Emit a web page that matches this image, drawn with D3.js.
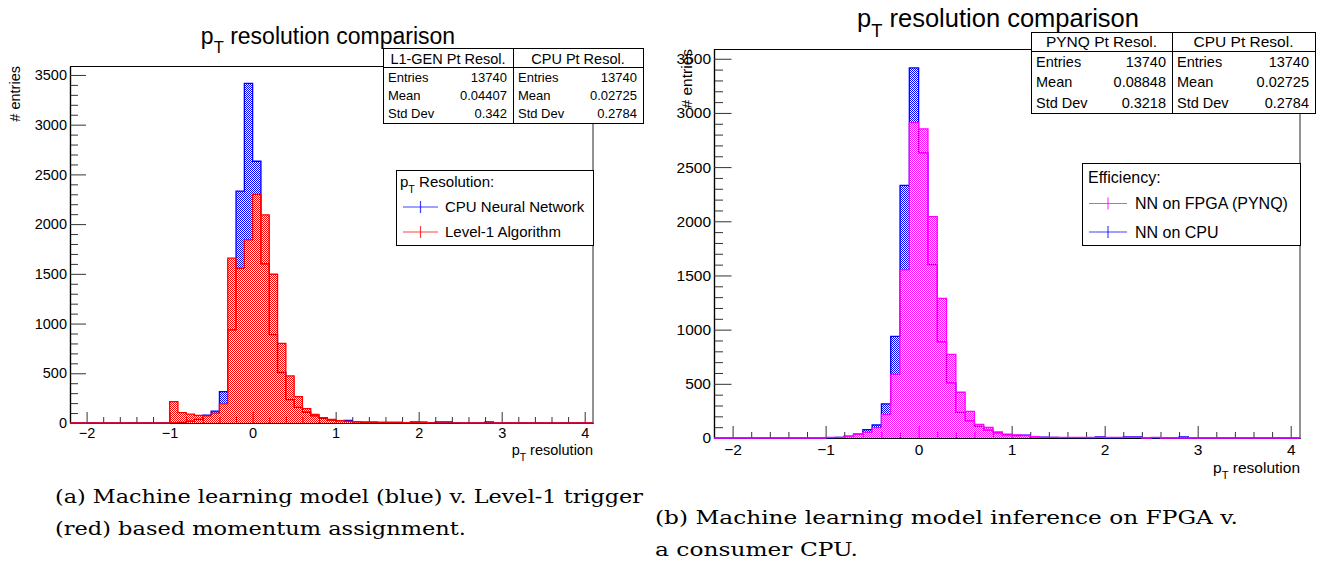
<!DOCTYPE html>
<html><head><meta charset="utf-8">
<script src="https://cdn.jsdelivr.net/npm/d3@7/dist/d3.min.js"></script>
<style>
html,body{margin:0;padding:0;background:#fff;}
svg{display:block;}
text{font-family:"Liberation Sans",Arial,Helvetica,sans-serif;fill:#000;}
.cap{font-family:"DejaVu Serif","Liberation Serif",serif;}
</style></head><body>
<svg id="c" width="1320" height="563"></svg>
<script>
// ---------------- DATA ----------------
const binLow = [-1.0,-0.9,-0.8,-0.7,-0.6,-0.5,-0.4,-0.3,-0.2,-0.1,
                 0.0, 0.1, 0.2, 0.3, 0.4, 0.5, 0.6, 0.7, 0.8, 0.9,
                 1.0, 1.1, 1.2, 1.3, 1.4, 1.5, 1.6, 1.7, 1.8, 1.9,
                 2.0, 2.1, 2.2, 2.3, 2.4, 2.5, 2.6, 2.7, 2.8, 2.9];
const binWidth = 0.1;
const histRange = [-2.2, 4.1];
// CPU neural network (same histogram in both panels)
const cpuCounts = [2,6,18,36,78,120,315,937,2332,3415,
                   2632,1600,888,508,236,158,108,72,48,30,
                   23,27,11,7,5,4,4,3,2,10,
                   2,1,10,10,1,1,1,1,10,0];
// Level-1 algorithm
const l1Counts = [215,105,90,76,72,100,192,1657,1556,1841,
                  2300,2093,1496,801,473,265,145,87,54,37,
                  23,17,13,10,10,9,9,8,3,3,
                  10,2,2,1,1,0,0,0,0,0];
// NN on FPGA (PYNQ)
const pynqCounts = [6,6,12,38,52,95,215,588,1551,2911,
                    2852,2043,1289,772,422,246,126,97,56,36,
                    28,25,12,6,6,6,6,6,6,6,
                    6,6,6,6,0,6,0,0,0,0];
const yTickValues = [0,500,1000,1500,2000,2500,3000,3500];
const xTickValues = [-2,-1,0,1,2,3,4];
const yTop = 3590;

const titleMain = " resolution comparison";
const xTitle = " resolution";
const yTitle = "# entries";

const statsRowLabels = ["Entries","Mean","Std Dev"];
const statsNamesA = ["L1-GEN Pt Resol.","CPU Pt Resol."];
const statsValuesA = [["13740","0.04407","0.342"],["13740","0.02725","0.2784"]];
const statsNamesB = ["PYNQ Pt Resol.","CPU Pt Resol."];
const statsValuesB = [["13740","0.08848","0.3218"],["13740","0.02725","0.2784"]];

const legendTitleA = " Resolution:";
const legendLabelsA = ["CPU Neural Network","Level-1 Algorithm"];
const legendTitleB = "Efficiency:";
const legendLabelsB = ["NN on FPGA (PYNQ)","NN on CPU"];

const captionA = ["(a) Machine learning model (blue) v. Level-1 trigger","(red) based momentum assignment."];
const captionB = ["(b) Machine learning model inference on FPGA v.","a consumer CPU."];

// ---------------- DRAW ----------------
const svg = d3.select("#c");
const defs = svg.append("defs");
function makePattern(id, color){
  const p = defs.append("pattern").attr("id",id).attr("patternUnits","userSpaceOnUse")
    .attr("width",2).attr("height",2);
  p.append("rect").attr("x",0).attr("y",0).attr("width",1).attr("height",1).attr("fill",color);
  p.append("rect").attr("x",1).attr("y",1).attr("width",1).attr("height",1).attr("fill",color);
}
makePattern("patBlue","#0000ff");
makePattern("patRed","#ff0000");
makePattern("patMag","#ff00ff");

function subText(sel, pre, sub, post, size){
  sel.append("tspan").text(pre);
  sel.append("tspan").attr("font-size",size*0.72).attr("dy",size*0.38).text(sub);
  sel.append("tspan").attr("dy",-size*0.38).text(post);
}
const intFmt = d3.format("d");

function drawPanel(L){
  const g = svg.append("g");
  const x = d3.scaleLinear().domain(histRange).range([L.x0, L.x1]);
  const y = d3.scaleLinear().domain([0, yTop]).range([L.y1, L.y0]);

  // frame
  g.append("line").attr("x1",L.x0).attr("x2",L.x1).attr("y1",L.y0+0.5).attr("y2",L.y0+0.5)
    .attr("stroke","#000").attr("stroke-width",1);
  g.append("line").attr("x1",L.x1).attr("x2",L.x1).attr("y1",L.y0).attr("y2",L.y1)
    .attr("stroke","#777").attr("stroke-width",1.6);

  // ticks
  const xMinor = d3.range(-11, 21).map(k => k*0.2).filter(v => Math.abs(v-Math.round(v))>1e-6);
  const yMinor = d3.range(1, 36).map(k => k*100).filter(v => v%500!==0);
  const fs = L.fs;
  const xm = g.append("g").attr("transform",`translate(0,${L.y1})`)
    .call(d3.axisBottom(x).tickValues(xMinor).tickSizeInner(-L.xMinor).tickSizeOuter(0).tickFormat(""));
  const ym = g.append("g").attr("transform",`translate(${L.x0},0)`)
    .call(d3.axisLeft(y).tickValues(yMinor).tickSizeInner(-L.yMinor).tickSizeOuter(0).tickFormat(""));
  const xa = g.append("g").attr("transform",`translate(0,${L.y1})`)
    .call(d3.axisBottom(x).tickValues(xTickValues).tickFormat(intFmt).tickSizeInner(-L.xMajor).tickSizeOuter(0).tickPadding(L.xPad));
  const ya = g.append("g").attr("transform",`translate(${L.x0},0)`)
    .call(d3.axisLeft(y).tickValues(yTickValues).tickFormat(intFmt).tickSizeInner(-L.yMajor).tickSizeOuter(0).tickPadding(L.yPad));
  [xm,ym,xa,ya].forEach(a=>{
    a.selectAll("path").attr("stroke","#000").attr("stroke-width",1.2);
    a.selectAll("line").attr("stroke","#333").attr("stroke-width",1);
    a.selectAll("text").attr("font-size",fs).attr("font-family","Liberation Sans, Arial, sans-serif").attr("fill","#000");
  });

  // histograms
  L.series.forEach(s=>{
    const last = binLow[binLow.length-1] + binWidth;
    const pts = [[histRange[0],0],[binLow[0],0]];
    binLow.forEach((b,i)=>{ pts.push([b, s.counts[i]]); pts.push([b+binWidth, s.counts[i]]); });
    pts.push([last,0]); pts.push([histRange[1],0]);
    const area = d3.area().x(d=>x(d[0])).y0(y(0)).y1(d=>y(d[1]));
    const line = d3.line().x(d=>x(d[0])).y(d=>y(d[1]));
    g.append("path").attr("d",area(pts)).attr("fill",`url(#${s.pat})`).attr("stroke","none");
    g.append("path").attr("d",line(pts)).attr("fill","none").attr("stroke",s.color).attr("stroke-width",1.3);
  });

  // axis titles
  const xt = g.append("text").attr("x",L.x1).attr("y",L.xTitleY).attr("text-anchor","end").attr("font-size",fs);
  subText(xt,"p","T",xTitle,fs);
  g.append("text").attr("transform",`translate(${L.yTitleX},${L.y0}) rotate(-90)`)
    .attr("text-anchor","end").attr("font-size",fs).text(yTitle);

  // title
  const tt = g.append("text").attr("x",L.titleX).attr("y",L.titleY).attr("text-anchor","middle").attr("font-size",L.titleFs);
  subText(tt,"p","T",titleMain,L.titleFs);

  // stats boxes
  const S = L.stats;
  L.statsNames.forEach((nm,k)=>{
    const bx0 = k===0 ? S.x0 : S.xm, bx1 = k===0 ? S.xm : S.x1;
    g.append("rect").attr("x",bx0+0.5).attr("y",S.y0+0.5).attr("width",bx1-bx0).attr("height",S.y2-S.y0)
      .attr("fill","#fff").attr("stroke","#000").attr("stroke-width",1);
    g.append("line").attr("x1",bx0).attr("x2",bx1).attr("y1",S.y1+0.5).attr("y2",S.y1+0.5).attr("stroke","#000");
    g.append("text").attr("x",(bx0+bx1)/2).attr("y",S.hy).attr("text-anchor","middle").attr("font-size",S.hfs).text(nm);
    statsRowLabels.forEach((rl,r)=>{
      g.append("text").attr("x",bx0+5).attr("y",S.ry[r]).attr("font-size",S.fs).text(rl);
      g.append("text").attr("x",bx1-6).attr("y",S.ry[r]).attr("text-anchor","end").attr("font-size",S.fs).text(L.statsValues[k][r]);
    });
  });

  // legend
  const G = L.legend;
  g.append("rect").attr("x",G.x0+0.5).attr("y",G.y0+0.5).attr("width",G.x1-G.x0).attr("height",G.y1-G.y0)
    .attr("fill","#fff").attr("stroke","#000").attr("stroke-width",1);
  const lt = g.append("text").attr("x",G.tx).attr("y",G.ty).attr("font-size",G.fs);
  if (G.sub) subText(lt,"p","T",G.title,G.fs); else lt.text(G.title);
  G.labels.forEach((lab,i)=>{
    const yy = G.ey[i];
    g.append("line").attr("x1",G.mx0).attr("x2",G.mx1).attr("y1",yy).attr("y2",yy)
      .attr("stroke",G.colors[i]).attr("stroke-width",1.2).attr("opacity",0.75);
    const cx=(G.mx0+G.mx1)/2;
    g.append("line").attr("x1",cx).attr("x2",cx).attr("y1",yy-6).attr("y2",yy+6)
      .attr("stroke",G.colors[i]).attr("stroke-width",1.2).attr("opacity",0.75);
    g.append("text").attr("x",G.lx).attr("y",yy+G.fs*0.36).attr("font-size",G.fs).text(lab);
  });

  // caption
  L.caption.forEach((c,i)=>{
    svg.append("text").attr("class","cap").attr("x",L.capX).attr("y",L.capY[i])
      .attr("font-size",19).attr("textLength",L.capW[i]).attr("lengthAdjust","spacingAndGlyphs").text(c);
  });
}

drawPanel({
  x0:70, x1:593, y0:66, y1:423, fs:14.5,
  xMajor:11, xMinor:6, yMajor:16, yMinor:8, xPad:5, yPad:3,
  xTitleY:455, yTitleX:20, titleX:328, titleY:44, titleFs:23,
  series:[{counts:cpuCounts,color:"#0000ff",pat:"patBlue"},{counts:l1Counts,color:"#ff0000",pat:"patRed"}],
  statsNames:statsNamesA, statsValues:statsValuesA,
  stats:{x0:383,xm:513,x1:643,y0:48,y1:67,y2:123,hy:63.5,hfs:14.5,fs:13,ry:[81.5,100,118]},
  legend:{x0:396,x1:593,y0:170,y1:245,tx:400,ty:187,fs:15,sub:true,title:legendTitleA,
          labels:legendLabelsA,colors:["#0000ff","#ff0000"],ey:[207,232],mx0:403,mx1:438,lx:445},
  caption:captionA, capX:55, capY:[503,535], capW:[588,411]
});
drawPanel({
  x0:714, x1:1300, y0:49, y1:438, fs:15.5,
  xMajor:12, xMinor:6, yMajor:17.5, yMinor:9, xPad:6, yPad:3,
  xTitleY:473, yTitleX:692, titleX:998, titleY:27, titleFs:25.5,
  series:[{counts:cpuCounts,color:"#0000ff",pat:"patBlue"},{counts:pynqCounts,color:"#ff00ff",pat:"patMag"}],
  statsNames:statsNamesB, statsValues:statsValuesB,
  stats:{x0:1031,xm:1172,x1:1315,y0:32,y1:51,y2:113,hy:47,hfs:15.5,fs:14.5,ry:[66.5,87,107.5]},
  legend:{x0:1082,x1:1300,y0:163,y1:245,tx:1088,ty:183,fs:16,sub:false,title:legendTitleB,
          labels:legendLabelsB,colors:["#ff00ff","#0000ff"],ey:[203.5,232],mx0:1089,mx1:1127,lx:1135},
  caption:captionB, capX:655, capY:[524,556], capW:[583,203]
});
</script>
</body></html>
